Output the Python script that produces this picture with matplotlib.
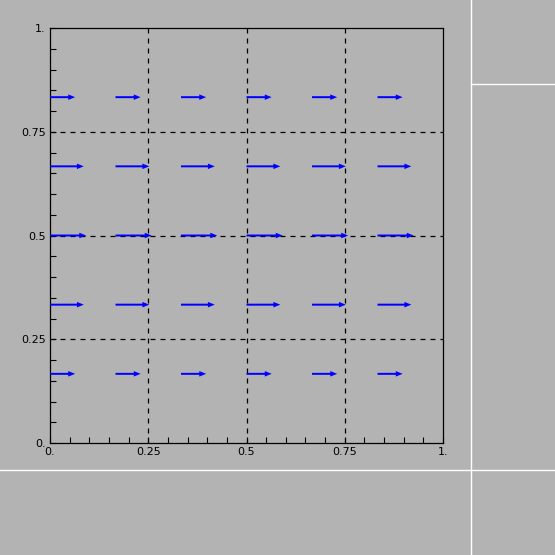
import numpy as np
import matplotlib
matplotlib.use('Agg')
import matplotlib.pyplot as plt
from matplotlib.ticker import MultipleLocator, FixedLocator
from matplotlib.lines import Line2D

# arrow grid (columns / rows) and horizontal length per row
col_x = [0.0, 1/6, 2/6, 3/6, 4/6, 5/6]
row_y = [1/6, 2/6, 3/6, 4/6, 5/6]
row_u = [0.064, 0.086, 0.092, 0.086, 0.064]

tick_vals = [0, 0.25, 0.5, 0.75, 1.0]
tick_labels = ['0.', '0.25', '0.5', '0.75', '1.']

bg = '#b3b3b3'
fig = plt.figure(figsize=(5.55, 5.55), dpi=100, facecolor=bg)
ax = fig.add_axes([50/555, 112/555, 393/555, 415/555])
ax.set_facecolor(bg)

# dashed grid
for g in [0.25, 0.5, 0.75]:
    ax.axvline(g, color='black', lw=0.9, ls=(0, (4, 4)), zorder=1)
    ax.axhline(g, color='black', lw=0.9, ls=(0, (4, 4)), zorder=1)

X, Y = np.meshgrid(col_x, row_y)
U = np.repeat(np.array(row_u)[:, None], len(col_x), axis=1)
V = np.zeros_like(U)
ax.quiver(X, Y, U, V, color='#0000ff', angles='xy', scale_units='xy', scale=1,
          width=0.005, headwidth=2.8, headlength=3.5, headaxislength=3.5, zorder=3)

ax.set_xlim(0, 1)
ax.set_ylim(0, 1)
ax.xaxis.set_major_locator(FixedLocator(tick_vals))
ax.yaxis.set_major_locator(FixedLocator(tick_vals))
ax.set_xticklabels(tick_labels)
ax.set_yticklabels(tick_labels)
ax.xaxis.set_minor_locator(MultipleLocator(0.05))
ax.yaxis.set_minor_locator(MultipleLocator(0.05))
ax.tick_params(which='both', direction='in', length=4, width=0.8, color='black',
               top=False, right=False, labelsize=8, pad=3)
for s in ax.spines.values():
    s.set_color('black')
    s.set_linewidth(0.9)

# white panel divider lines
fig.add_artist(Line2D([471/555, 471/555], [0, 1], color='white', lw=1, transform=fig.transFigure))
fig.add_artist(Line2D([471/555, 1], [1 - 84/555, 1 - 84/555], color='white', lw=1, transform=fig.transFigure))
fig.add_artist(Line2D([0, 1], [1 - 470/555, 1 - 470/555], color='white', lw=1, transform=fig.transFigure))

fig.savefig('out.png', dpi=100, facecolor=bg)
